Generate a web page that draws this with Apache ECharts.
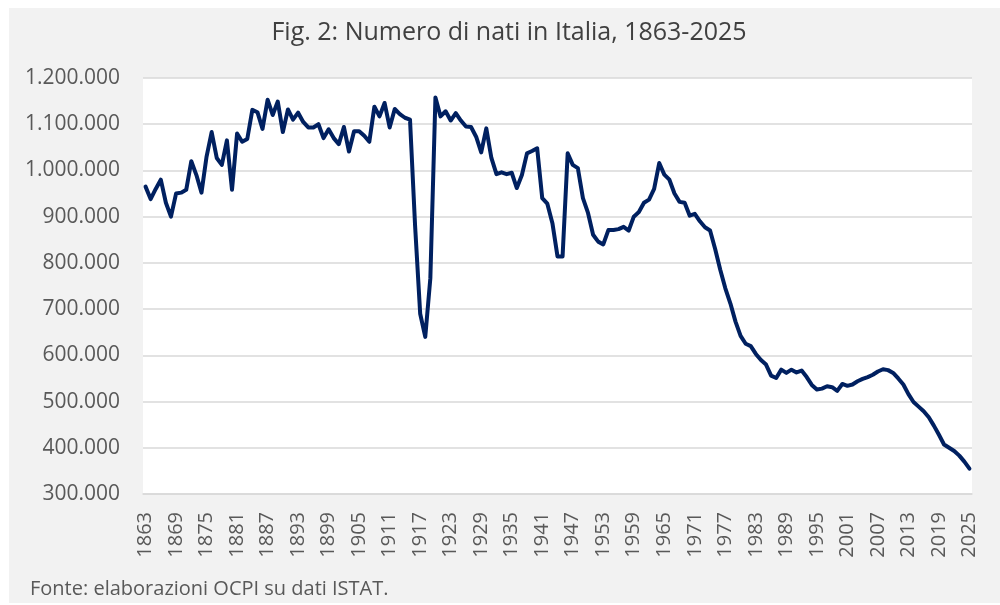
<!DOCTYPE html>
<html>
<head>
<meta charset="utf-8">
<title>Numero di nati in Italia</title>
<script src="https://cdn.jsdelivr.net/npm/echarts@6/dist/echarts.min.js"></script>
<style>
    html, body { margin: 0; padding: 0; background: #ffffff; }
    #divChart { width: 1000px; height: 605px; }
</style>
</head>
<body>
<div id="divChart"></div>
<script>
// anni 1863-2025
var years = [];
for (var y = 1863; y <= 2025; y++) {
    years.push(String(y));
}

// nati per anno
var births = [
    965000, 938000, 960000, 980000, 930000, 900000, 950000,
    952000, 958000, 1020000, 990000, 952000, 1030000, 1083000, 1027000, 1012000, 1065000,
    958000, 1080000, 1062000, 1068000, 1131000, 1126000, 1090000, 1153000, 1120000, 1149000,
    1083000, 1132000, 1110000, 1125000, 1105000, 1093000, 1093000, 1100000, 1070000, 1089000,
    1070000, 1057000, 1094000, 1041000, 1085000, 1085000, 1075000, 1062000, 1138000, 1117000,
    1146000, 1093000, 1133000, 1122000, 1114000, 1110000, 880000, 690000, 640000, 767000,
    1158000, 1117000, 1128000, 1108000, 1124000, 1108000, 1095000, 1094000, 1073000, 1039000,
    1091000, 1027000, 992000, 996000, 992000, 995000, 962000, 990000, 1037000, 1042000,
    1048000, 940000, 928000, 886000, 814000, 814000, 1037000, 1012000, 1005000, 940000,
    908000, 861000, 846000, 840000, 871000, 871000, 873000, 878000, 870000, 900000,
    910000, 930000, 937000, 960000, 1016000, 991000, 980000, 950000, 932000, 930000,
    902000, 906000, 890000, 877000, 870000, 830000, 785000, 745000, 712000, 673000,
    642000, 625000, 620000, 603000, 590000, 580000, 556000, 551000, 569000, 562000,
    569000, 563000, 567000, 553000, 536000, 526000, 528000, 533000, 531000, 523000,
    538000, 534000, 537000, 544000, 549000, 553000, 558000, 565000, 570000, 568000,
    562000, 550000, 537000, 516000, 499000, 489000, 479000, 466000, 448000, 428000,
    407000, 400000, 393000, 383000, 370000, 355000
];

var titleText = "Fig. 2: Numero di nati in Italia, 1863-2025";
var sourceText = "Fonte: elaborazioni OCPI su dati ISTAT.";

function fmtThousands(v) {
    return String(v).replace(/\B(?=(\d{3})+(?!\d))/g, ".");
}

var aChart = echarts.init(document.getElementById("divChart"));
var aOption = {
    backgroundColor: "#ffffff",
    animation: false,
    textStyle: { fontFamily: "Open Sans" },
    graphic: [
        {
            type: "rect", z: -10, silent: true,
            shape: { x: 9, y: 8, width: 991, height: 595 },
            style: { fill: "#f2f2f2" }
        },
        {
            type: "text", z: 10,
            x: 509, y: 33,
            style: {
                text: titleText, textAlign: "center", textVerticalAlign: "middle",
                font: "25px 'Open Sans'", fill: "#404040"
            }
        },
        {
            type: "text", z: 10,
            x: 30, y: 589,
            style: {
                text: sourceText, textAlign: "left", textVerticalAlign: "middle",
                font: "20px 'Open Sans'", fill: "#595959"
            }
        }
    ],
    grid: {
        left: 143, right: 28, top: 78, bottom: 111,
        show: true, backgroundColor: "#ffffff", borderWidth: 0
    },
    xAxis: {
        type: "category",
        data: years,
        boundaryGap: true,
        axisLine: { show: true, lineStyle: { color: "#d9d9d9", width: 1.5 } },
        axisTick: { show: false },
        axisLabel: {
            interval: 5, rotate: 90, margin: 18,
            fontSize: 20, color: "#595959", fontFamily: "Open Sans"
        },
        splitLine: { show: false }
    },
    yAxis: {
        type: "value",
        min: 300000, max: 1200000, interval: 100000,
        axisLine: { show: false },
        axisTick: { show: false },
        axisLabel: {
            margin: 23, fontSize: 21, color: "#595959", fontFamily: "Open Sans",
            formatter: function (v) { return fmtThousands(v); }
        },
        splitLine: { lineStyle: { color: "#d9d9d9", width: 1.5 } }
    },
    series: [
        {
            name: "Nati",
            type: "line",
            data: births,
            showSymbol: false,
            symbol: "none",
            smooth: false,
            lineStyle: { color: "#002060", width: 4, join: "round", cap: "round" },
            itemStyle: { color: "#002060" }
        }
    ]
};
aChart.setOption(aOption);
</script>
</body>
</html>
